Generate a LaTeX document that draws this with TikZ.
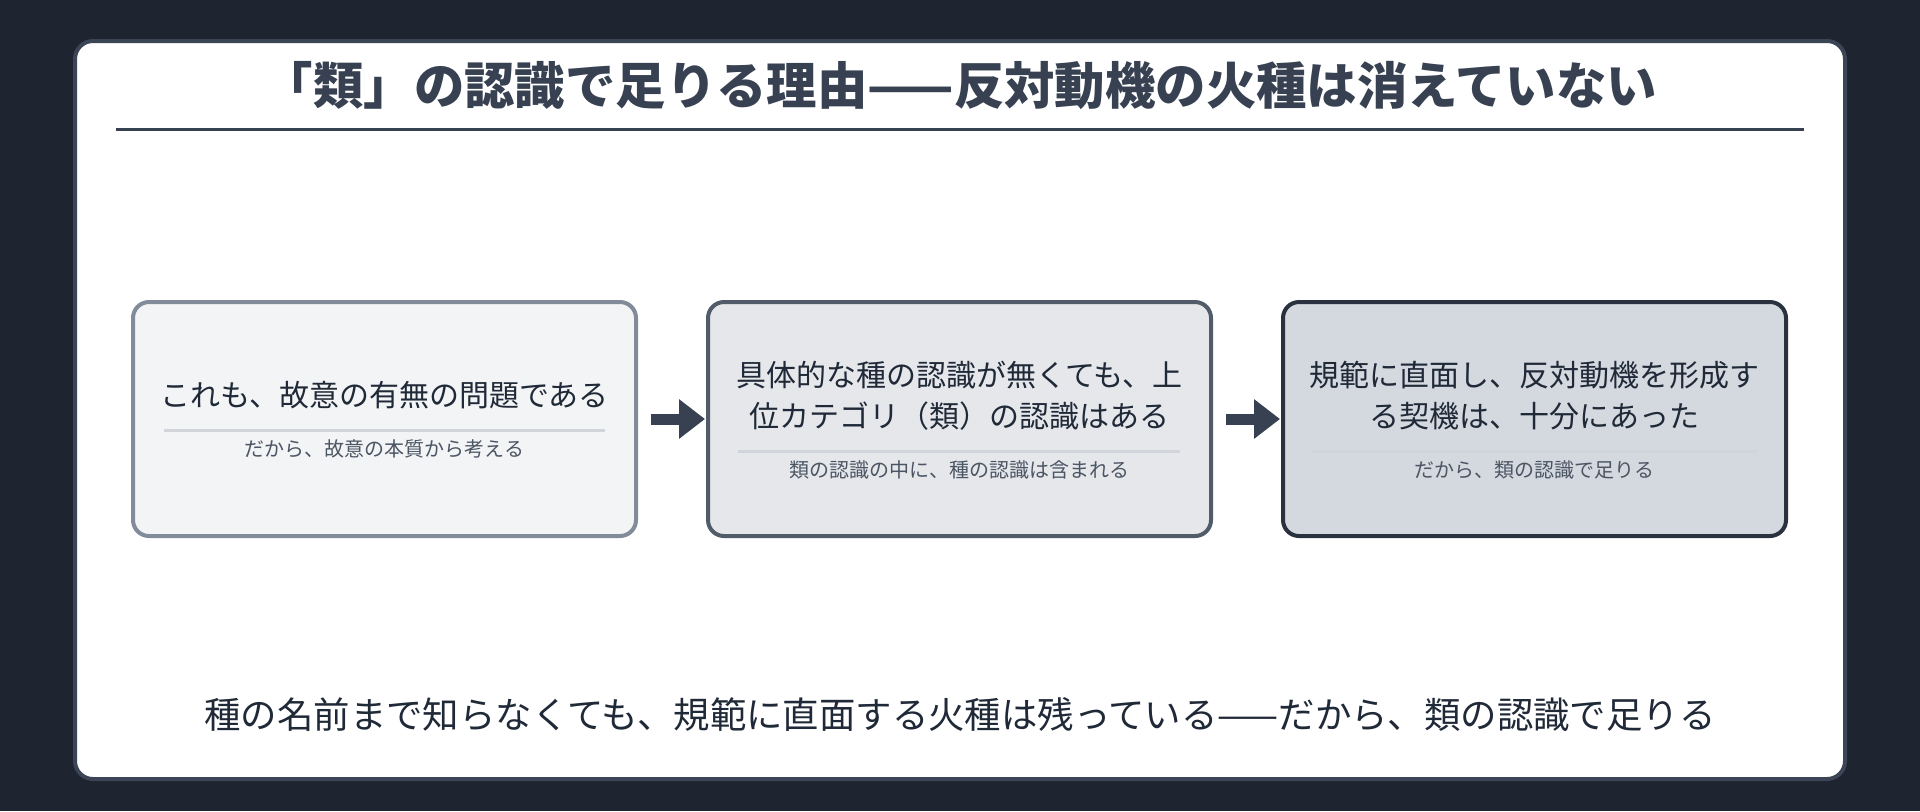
\documentclass[tikz,border=0pt]{standalone}
\usepackage{fontspec}
\setmainfont{Noto Sans CJK JP}
\usepackage{tikz}
\usetikzlibrary{positioning, arrows.meta}
\definecolor{bg}{HTML}{1F2530}
\definecolor{frame}{HTML}{3B4555}
\definecolor{ink}{HTML}{1F2937}
\definecolor{head}{HTML}{374151}
\definecolor{sub}{HTML}{4B5563}
\definecolor{arrowc}{HTML}{374151}
\definecolor{split}{HTML}{D1D5DB}

\begin{document}
\begin{tikzpicture}[x=0.5pt, y=-0.5pt,
                    every node/.style = {text=ink, inner sep=0pt},
                    stage/.style = {draw, line width=2pt, rounded corners=8pt,
                                    minimum width=251.5pt, minimum height=117pt},
                    lead/.style = {align=center, font=\fontsize{15}{20.5}\selectfont},
                    note/.style = {text=sub, font=\fontsize{10}{12}\selectfont},
                    divider/.style = {draw=split, line width=1.5pt},
                    every edge/.style = {draw=arrowc, line width=5.5pt,
                                         -{Triangle[length=13pt,width=19pt]},
                                         shorten <=6.5pt, shorten >=0.5pt}]
                \useasboundingbox (0,0) rectangle (1920,811);
                \fill[bg] (0,0) rectangle (1920,811);
                \draw[frame, fill=white, line width=2pt, rounded corners=9pt] (75,41) rectangle (1845,779);
                % title
                \node (title) [text=head, font=\fontsize{25.2}{29}\selectfont\bfseries] at (960,86)
                      {「類」の認識で足りる理由——反対動機の火種は消えていない};
                \draw[head, line width=1.5pt] (116,129) -- (1804,129);
                % stages
                \node (issue)  [stage, fill={rgb,255:red,243;green,244;blue,246}, draw={rgb,255:red,129;green,139;blue,154}] at (384.5,419) {};
                \node (genus)  [stage, fill={rgb,255:red,229;green,231;blue,235}, draw={rgb,255:red,82;green,91;blue,106}] at (959.5,419) {};
                \node (motive) [stage, fill={rgb,255:red,212;green,216;blue,223}, draw={rgb,255:red,42;green,50;blue,64}] at (1534.5,419) {};
                \node (issue-t)  [lead] at (384.5,395)  {これも、故意の有無の問題である};
                \node (genus-t)  [lead] at (959.5,395.5) {具体的な種の認識が無くても、上\\位カテゴリ（類）の認識はある};
                \node (motive-t) [lead] at (1534.5,395.5) {規範に直面し、反対動機を形成す\\る契機は、十分にあった};
                \draw[divider] (164,430) -- (605,430);
                \draw[divider] (738,451) -- (1180,451);
                \draw[divider] (1312,451) -- (1757,451);
                \node (issue-n)  [note] at (384.5,449) {だから、故意の本質から考える};
                \node (genus-n)  [note] at (959.5,470) {類の認識の中に、種の認識は含まれる};
                \node (motive-n) [note] at (1534.5,470) {だから、類の認識で足りる};
                \draw (issue) edge (genus);
                \draw (genus) edge (motive);
                % conclusion
                \node (verdict) [font=\fontsize{18.2}{22}\selectfont] at (960,715)
                      {種の名前まで知らなくても、規範に直面する火種は残っている——だから、類の認識で足りる};
            \end{tikzpicture}
\end{document}
